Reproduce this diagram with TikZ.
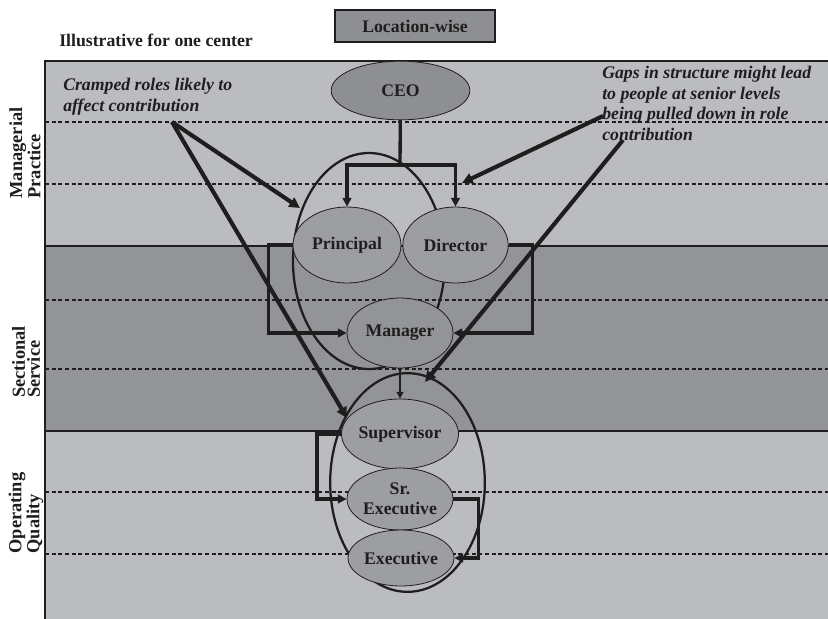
\documentclass[tikz,border=0pt]{standalone}
\usepackage{fontspec}
\setmainfont{Liberation Serif}
\usetikzlibrary{shapes.geometric, arrows.meta}

\definecolor{bandlight}{HTML}{BBBCC0}
\definecolor{banddark}{HTML}{939498}
\definecolor{rolefill}{HTML}{9D9EA2}
\definecolor{topfill}{HTML}{8E8F93}
\definecolor{inkline}{HTML}{1E1E1E}

\begin{document}
\begin{tikzpicture} [x = 0.75pt, y = -0.75pt,
  role/.style = {ellipse, draw = inkline, line width = 0.6pt, fill = rolefill, inner sep = 0pt,
    font = \fontsize{13.3}{15}\selectfont\bfseries, text = inkline, align = center},
  level/.style = {rotate = 90, align = left, inner sep = 0pt,
    font = \fontsize{13.8}{11.3}\selectfont\bfseries, text = inkline},
  note/.style = {anchor = north west, inner sep = 0pt, align = left,
    font = \fontsize{13.3}{15.5}\selectfont\bfseries\itshape, text = inkline},
  cut/.style = {dash pattern = on 3pt off 2pt, line width = 0.8pt, draw = inkline},
  border/.style = {line width = 1.2pt, draw = inkline},
  group/.style = {line width = 1.7pt, draw = inkline},
  link/.style = {line width = 2.5pt, draw = inkline, -{Triangle[length = 6.5pt, width = 6.5pt]}},
  pointer/.style = {line width = 3.1pt, draw = inkline, -{Triangle[length = 8pt, width = 8pt]}}]
\useasboundingbox (0, 0) rectangle (828, 618);

% bands
\begin{scope}
\clip (0, 0) rectangle (828, 618);
\fill[bandlight] (45, 61) rectangle (830, 246);
\fill[banddark] (45, 246) rectangle (830, 431);
\fill[bandlight] (45, 431) rectangle (830, 620);
\foreach \y in {122, 184, 300, 369, 492, 554}
  \draw[cut] (45, \y) -- (830, \y);
\draw[border] (830, 61) -- (45, 61) -- (45, 620);
\draw[border] (45, 246) -- (830, 246);
\draw[border] (45, 431) -- (830, 431);
\end{scope}

% level labels
\node[level] (mp) at (25, 153) {Managerial\\Practice};
\node[level] (ss) at (26, 362) {Sectional\\Service};
\node[level] (oq) at (26, 513) {Operating\\Quality};

\node[anchor = base west, inner sep = 0pt, font = \fontsize{13.3}{16}\selectfont\bfseries, text = inkline] (illus) at (59, 46) {Illustrative for one center};
\node[draw = inkline, line width = 0.8pt, fill = topfill, minimum width = 120pt, minimum height = 24pt,
  font = \fontsize{13.3}{16}\selectfont\bfseries, text = inkline] (loc) at (415, 26) {Location-wise};

% groups
\draw[group] (369, 261) ellipse [x radius = 57pt, y radius = 81pt];
\draw[group] (407.5, 482.5) ellipse [x radius = 58pt, y radius = 82pt];

% roles
\node[role, fill = topfill, minimum width = 104pt, minimum height = 44pt] (ceo) at (400.5, 90.5) {CEO};
\node[role, minimum width = 81pt, minimum height = 57pt] (principal) at (347, 245) {Principal};
\node[role, minimum width = 79pt, minimum height = 57pt] (director) at (455.5, 245) {Director};
\node[role, fill = banddark, minimum width = 79.5pt, minimum height = 52.5pt] (manager) at (400, 333) {Manager};
\node[role, minimum width = 79.5pt, minimum height = 52.5pt] (supervisor) at (400, 434) {Supervisor};
\node[role, minimum width = 79.5pt, minimum height = 46.5pt] (srexec) at (400, 499) {Sr.\\Executive};
\node[role, minimum width = 79.5pt, minimum height = 42pt] (exec) at (401, 558) {Executive};

% reporting lines
\coordinate (split) at (400, 165);
\draw[link, -] (ceo) -- (split);
\draw[link] (split) -| (principal);
\draw[link] (split) -| (director);
\draw[link] (director.east) -- ++(24, 0) |- (manager.east);
\draw[link] (principal.west) -- ++(-24, 0) |- (manager.west);
\draw[link, line width = 1.2pt, -{Triangle[length = 5pt, width = 5pt]}] (manager) -- (supervisor);
\draw[link] (supervisor.west) -- ++(-24, 0) |- (srexec.west);
\draw[link] (srexec.east) -- ++(25, 0) |- (exec.east);

% notes
\node[note] (cramped) at (63, 78) {Cramped roles likely to\\affect contribution};
\node[note] (gaps) at (602, 66) {Gaps in structure might lead\\to people at senior levels\\being pulled down in role\\contribution};

\coordinate (crampfoot) at (172, 122);
\coordinate (gapsfootA) at (603, 116);
\coordinate (gapsfootB) at (623, 140);
\coordinate (crampA) at (300, 208);
\coordinate (crampB) at (347, 418);
\coordinate (gapsA) at (462, 183);
\coordinate (gapsB) at (425, 382);
\draw[pointer] (crampfoot) -- (crampA);
\draw[pointer] (crampfoot) -- (crampB);
\draw[pointer] (gapsfootA) -- (gapsA);
\draw[pointer] (gapsfootB) -- (gapsB);
\end{tikzpicture}
\end{document}
